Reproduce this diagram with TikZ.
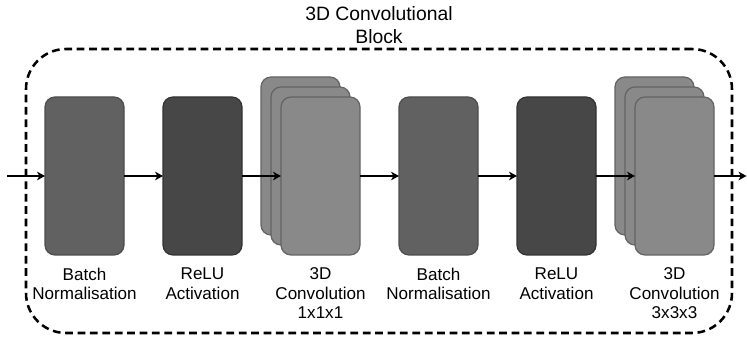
\documentclass[tikz,border=0pt]{standalone}
\usepackage{fontspec}
\setmainfont{Liberation Sans}
\usetikzlibrary{arrows.meta,positioning,backgrounds,calc}
\definecolor{cnorm}{HTML}{616161}
\definecolor{cnormD}{HTML}{4D4D4D}
\definecolor{crelu}{HTML}{474747}
\definecolor{creluD}{HTML}{333333}
\definecolor{cconv}{HTML}{898989}
\definecolor{cconvD}{HTML}{636363}
\tikzset{
  layerbox/.style={draw, rounded corners=7.5pt, minimum width=59.25pt,
               minimum height=118.5pt, line width=0.9pt, inner sep=0pt, outer sep=0pt},
  lnorm/.style={layerbox, fill=cnorm, draw=cnormD},
  lrelu/.style={layerbox, fill=crelu, draw=creluD},
  lconv/.style={layerbox, fill=cconv, draw=cconvD},
  lbl/.style={align=center, inner sep=0pt, outer sep=0pt,
              font=\fontsize{12.8}{14.6}\selectfont},
  ttl/.style={align=center, inner sep=0pt, outer sep=0pt,
              font=\fontsize{14.5}{17.25}\selectfont},
  frame/.style={draw, dash pattern=on 5.8pt off 3.5pt, line width=1.9pt,
               rounded corners=30pt, minimum width=529.5pt, minimum height=213pt},
  flow/.style={-{Stealth[length=6pt, width=6.5pt, inset=1.8pt]}, line width=1.1pt},
}

\begin{document}
\begin{tikzpicture}[x=0.75pt, y=0.75pt, node distance=29.25pt]
  \useasboundingbox (0,0) rectangle (747,339);
  % dashed block and its title
  \node[frame] (block) at (379,148) {};
  \node[ttl, above=3.4pt of block] (title) {3D Convolutional\\Block};

  % layers
  \node[lnorm] (bn1) at (84.5,163) {};
  \node[lrelu, right=of bn1] (relu1) {};
  \node[lconv, right=of relu1] (conv1) {};
  \node[lnorm, right=of conv1] (bn2) {};
  \node[lrelu, right=of bn2] (relu2) {};
  \node[lconv, right=of relu2] (conv2) {};
  \begin{scope}[on background layer]
    \node[lconv] (conv1c) at ($(conv1)+(-15pt,15pt)$) {};
    \node[lconv] (conv1b) at ($(conv1)+(-7.5pt,7.5pt)$) {};
    \node[lconv] (conv2c) at ($(conv2)+(-15pt,15pt)$) {};
    \node[lconv] (conv2b) at ($(conv2)+(-7.5pt,7.5pt)$) {};
  \end{scope}

  % labels
  \node[lbl, below=9.75pt of bn1] (lbn1) {Batch\\Normalisation};
  \node[lbl, below=9.75pt of relu1] (lrelu1) {ReLU\\Activation};
  \node[lbl, below=9.75pt of conv1] (lconv1) {3D\\Convolution\\1x1x1};
  \node[lbl, below=9.75pt of bn2] (lbn2) {Batch\\Normalisation};
  \node[lbl, below=9.75pt of relu2] (lrelu2) {ReLU\\Activation};
  \node[lbl, below=9.75pt of conv2] (lconv2) {3D\\Convolution\\3x3x3};

  % connections
  \coordinate (in) at (7,163);
  \coordinate (out) at (746.5,163);
  \draw[flow] (in) -- (bn1);
  \draw[flow] (bn1) -- (relu1);
  \draw[flow] (relu1) -- (conv1);
  \draw[flow] (conv1) -- (bn2);
  \draw[flow] (bn2) -- (relu2);
  \draw[flow] (relu2) -- (conv2);
  \draw[flow] (conv2) -- (out);
\end{tikzpicture}
\end{document}
